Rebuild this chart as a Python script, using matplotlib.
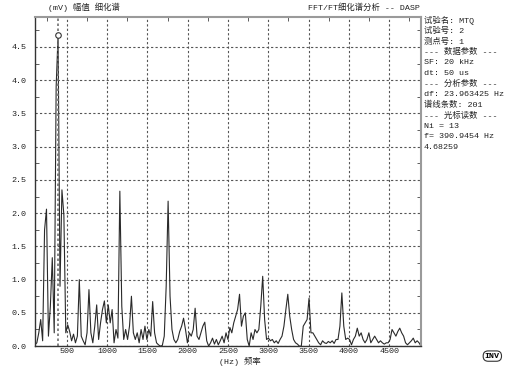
import numpy as np
import matplotlib
matplotlib.use('Agg')
import matplotlib.pyplot as plt
from matplotlib.ticker import MultipleLocator

plt.rcParams['font.family'] = ['Liberation Mono', 'Noto Sans CJK SC', 'DejaVu Sans']

# spectrum settings
DF = 23.963425
N_LINES = 201
CURSOR_NI = 13
CURSOR_F = 390.9454
CURSOR_VAL = 4.68259

# amplitude (mV) per spectral line
amplitude = [
    0.02, 0.05, 0.20, 0.40, 0.08, 1.75, 2.06, 0.15, 0.60, 1.33,
    0.20, 3.90, 4.68, 0.90, 2.35, 1.97, 0.20, 0.32, 0.22, 0.08,
    0.18, 0.05, 0.15, 1.00, 0.15, 0.08, 0.02, 0.20, 0.85, 0.20,
    0.05, 0.30, 0.62, 0.10, 0.35, 0.55, 0.68, 0.35, 0.62, 0.35,
    0.55, 0.05, 0.25, 0.12, 2.33, 0.60, 0.10, 0.25, 0.10, 0.30,
    0.75, 0.20, 0.10, 0.20, 0.05, 0.25, 0.10, 0.30, 0.10, 0.25,
    0.15, 0.67, 0.20, 0.05, 0.02, 0.00, 0.01, 0.15, 0.90, 2.18,
    0.75, 0.25, 0.10, 0.05, 0.10, 0.22, 0.30, 0.42, 0.25, 0.05,
    0.20, 0.15, 0.25, 0.57, 0.15, 0.10, 0.20, 0.30, 0.36, 0.08,
    0.00, 0.05, 0.12, 0.03, 0.10, 0.02, 0.08, 0.15, 0.05, 0.20,
    0.10, 0.28, 0.20, 0.35, 0.45, 0.55, 0.78, 0.30, 0.45, 0.50,
    0.10, 0.00, 0.20, 0.10, 0.25, 0.20, 0.25, 0.60, 1.05, 0.40,
    0.10, 0.12, 0.08, 0.10, 0.05, 0.08, 0.04, 0.10, 0.15, 0.30,
    0.55, 0.78, 0.45, 0.25, 0.10, 0.05, 0.03, 0.00, 0.00, 0.30,
    0.35, 0.40, 0.72, 0.20, 0.20, 0.15, 0.10, 0.05, 0.02, 0.08,
    0.05, 0.04, 0.07, 0.05, 0.08, 0.04, 0.10, 0.10, 0.30, 0.80,
    0.30, 0.10, 0.12, 0.10, 0.02, 0.10, 0.15, 0.27, 0.15, 0.20,
    0.10, 0.05, 0.10, 0.20, 0.05, 0.10, 0.15, 0.10, 0.05, 0.08,
    0.05, 0.03, 0.05, 0.05, 0.10, 0.25, 0.20, 0.15, 0.22, 0.27,
    0.20, 0.15, 0.05, 0.02, 0.05, 0.08, 0.12, 0.05, 0.08, 0.05,
    0.00,
]

x_ticks = [500, 1000, 1500, 2000, 2500, 3000, 3500, 4000, 4500]
y_ticks = [0.0, 0.5, 1.0, 1.5, 2.0, 2.5, 3.0, 3.5, 4.0, 4.5]

info_lines = [
    '试验名: MTQ',
    '试验号: 2',
    '测点号: 1',
    '--- 数据参数 ---',
    'SF: 20 kHz',
    'dt: 50 us',
    '--- 分析参数 ---',
    'df: 23.963425 Hz',
    '谱线条数: 201',
    '--- 光标读数 ---',
    'Ni = 13',
    'f= 390.9454 Hz',
    '4.68259',
]

# frequency of each line, from the cursor reading
freq = CURSOR_F + (np.arange(1, N_LINES + 1) - CURSOR_NI) * DF

fig = plt.figure(figsize=(5.06, 3.69), dpi=100)
ax = fig.add_axes([0.069, 0.062, 0.763, 0.892])

ax.plot(freq, amplitude, color='#2a2a2a', lw=0.8)

# cursor
ax.axvline(CURSOR_F, color='#707070', ls=(0, (1.5, 1.5)), lw=1.2)
ax.plot([CURSOR_F], [CURSOR_VAL], 'o', mfc='white', mec='#333333', ms=4, mew=0.8)

ax.set_xlim(freq[0], freq[-1])
ax.set_ylim(0, 4.95)
ax.set_xticks(x_ticks)
ax.set_yticks(y_ticks)
ax.set_yticklabels([f'{v:.1f}' for v in y_ticks])
ax.yaxis.set_minor_locator(MultipleLocator(0.25))
ax.xaxis.set_minor_locator(MultipleLocator(250))
ax.tick_params(axis='both', which='major', length=0, labelsize=6, colors='#222222')
ax.tick_params(axis='y', which='major', pad=6)
ax.tick_params(axis='x', which='major', pad=1.5)
ax.tick_params(axis='y', which='minor', length=3, direction='in', left=True, right=True,
               color='#444444')
ax.tick_params(axis='x', which='minor', length=3, direction='in', bottom=False, top=True,
               color='#444444')
ax.grid(True, which='major', color='#555555', ls=(0, (2, 2)), lw=0.8)

for side in ['left', 'bottom']:
    ax.spines[side].set_color('#333333')
    ax.spines[side].set_linewidth(1.0)
for side in ['top', 'right']:
    ax.spines[side].set_color('#9a9a9a')
    ax.spines[side].set_linewidth(1.5)

fig.text(0.095, 0.967, '(mV) 幅值 细化谱', fontsize=6, va='bottom', color='#222222')
fig.text(0.830, 0.967, 'FFT/FT细化谱分析 -- DASP', fontsize=6, va='bottom', ha='right',
         color='#222222')
fig.text(0.474, 0.020, '(Hz) 频率', fontsize=6, ha='center', va='center', color='#222222')

for i, line in enumerate(info_lines):
    fig.text(0.837, 0.945 - i * 0.0287, line, fontsize=6, va='center', color='#222222')

fig.text(0.973, 0.035, 'INV', fontsize=6, ha='center', va='center', fontweight='bold',
         bbox=dict(boxstyle='round,pad=0.2,rounding_size=0.6', fc='white', ec='#333333', lw=0.8))

fig.savefig('out.png', dpi=100)
